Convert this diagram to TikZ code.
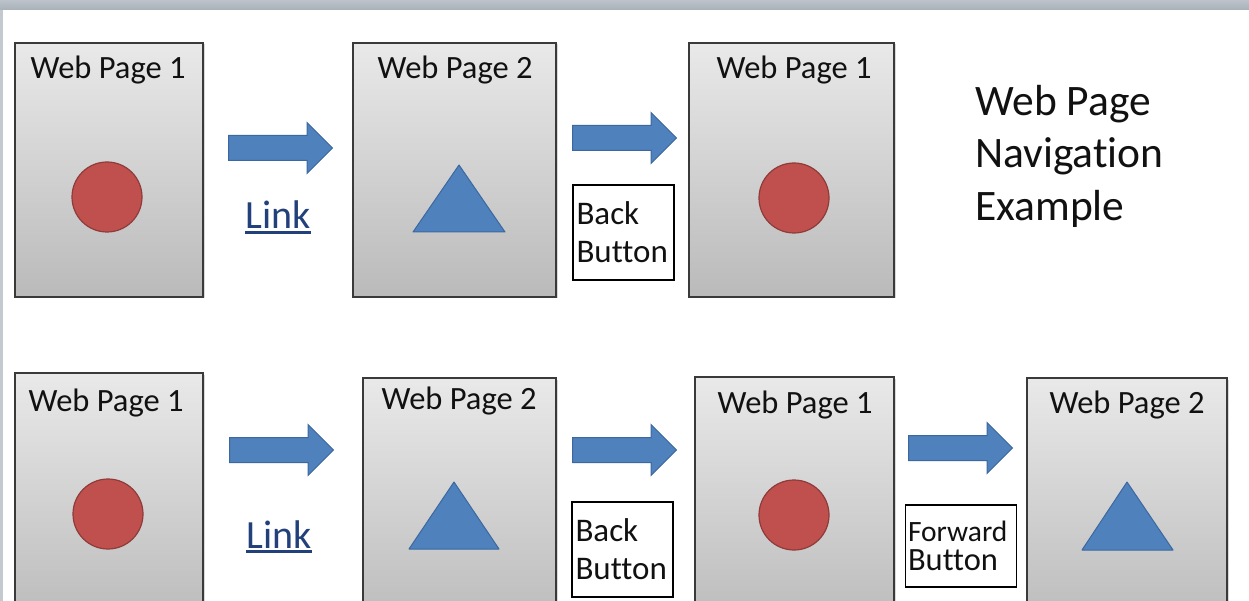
\documentclass[tikz,border=0pt]{standalone}
\usepackage{fontspec}
\setmainfont{Carlito}[Ligatures=NoCommon]
\usetikzlibrary{shapes.arrows,shadows}

\definecolor{pagetop}{HTML}{E9E9EA}
\definecolor{pagebot}{HTML}{BABABA}
\definecolor{pageline}{HTML}{3A3A3A}
\definecolor{dotred}{HTML}{C0504D}
\definecolor{dotline}{HTML}{8E3B39}
\definecolor{shapeblue}{HTML}{4F81BD}
\definecolor{blueline}{HTML}{3C68A0}
\definecolor{linkblue}{HTML}{22407A}
\definecolor{bartop}{HTML}{BCC3CB}
\definecolor{barbot}{HTML}{A8B0B8}
\definecolor{sidebar}{HTML}{C3C9CF}
\definecolor{ink}{HTML}{111111}

\newcommand{\linkline}[1]{\setbox0\hbox{#1}\rlap{\rule[-5pt]{\wd0}{2.6pt}}\box0}

\begin{document}
\begin{tikzpicture}[x=1pt, y=-1pt,
  page/.style={draw=pageline, line width=1.5pt, top color=pagetop, bottom color=pagebot,
    inner sep=0pt, minimum height=254pt,
    drop shadow={shadow xshift=1.5pt, shadow yshift=-1.5pt, opacity=0.3}},
  title/.style={font=\fontsize{32.5}{36}\selectfont, text=ink, anchor=base, inner sep=0pt},
  dot/.style={circle, fill=dotred, draw=dotline, line width=1.2pt, minimum size=70pt, inner sep=0pt},
  tri/.style={fill=shapeblue, draw=blueline, line width=1pt, line join=round},
  blockarrow/.style={single arrow, fill=shapeblue, draw=blueline, line width=1pt, anchor=tail,
    minimum height=104pt, inner xsep=0pt, inner ysep=12pt,
    single arrow head extend=13pt, single arrow head indent=0pt},
  button/.style={draw=black, line width=1.6pt, fill=white, align=left, text=ink,
    inner xsep=3.5pt, inner ysep=0pt, text width=94pt, minimum height=95pt,
    font=\fontsize{33}{38}\selectfont},
  linktext/.style={font=\fontsize{40}{40}\selectfont, text=linkblue, anchor=base, inner sep=0pt},
  navtext/.style={font=\fontsize{43.5}{52.5}\selectfont, text=ink, align=left, anchor=north west, inner sep=0pt}
]
\useasboundingbox (0,0) rectangle (1249,601);
\clip (0,0) rectangle (1249,601);

% window frame
\shade[top color=bartop, bottom color=barbot] (0,0) rectangle (1249,10);
\fill[sidebar] (0,10) rectangle (3,601);

% top row: link, then back
\node[page, minimum width=188pt] (a1) at (109,170) {};
\node[page, minimum width=203pt] (a2) at (454.5,170) {};
\node[page, minimum width=205pt] (a3) at (791.5,170) {};
\node[title] (a1t) at (108,79) {Web Page 1};
\node[title] (a2t) at (455,79) {Web Page 2};
\node[title] (a3t) at (794,79) {Web Page 1};
\node[dot] (a1d) at (107,197) {};
\draw[tri] (413,232) -- (459,165) -- (505,232) -- cycle;
\node[dot] (a3d) at (794,198) {};
\node[blockarrow] (a1a) at (228,148) {};
\node[blockarrow] (a2a) at (572,138) {};
\node[linktext] (a1l) at (278,229) {\linkline{Link}};
\node[button] (a2b) at (623.5,232.5) {Back\\Button};
\node[navtext] (nav) at (975,85) {Web Page\\Navigation\\Example};

% bottom row: link, back, then forward
\node[page, minimum width=188pt] (b1) at (109,500) {};
\node[page, minimum width=193pt] (b2) at (459.5,505) {};
\node[page, minimum width=199pt] (b3) at (794.5,504) {};
\node[page, minimum width=200pt] (b4) at (1127,505) {};
\node[title] (b1t) at (106,411) {Web Page 1};
\node[title] (b2t) at (459,409) {Web Page 2};
\node[title] (b3t) at (795,413) {Web Page 1};
\node[title] (b4t) at (1127,413) {Web Page 2};
\node[dot] (b1d) at (108,514) {};
\draw[tri] (409,549) -- (454,482) -- (499,549) -- cycle;
\node[dot] (b3d) at (794,515) {};
\draw[tri] (1082,550) -- (1127,482) -- (1173,550) -- cycle;
\node[blockarrow] (b1a) at (229,450) {};
\node[blockarrow] (b2a) at (572,450) {};
\node[blockarrow] (b3a) at (908,448) {};
\node[linktext] (b1l) at (279,548) {\linkline{Link}};
\node[button] (b2b) at (622.5,549.5) {Back\\Button};
\node[button, text width=106pt, inner xsep=2.5pt, minimum height=82pt, font=\fontsize{32.5}{29}\selectfont]
  (b3b) at (961,546) {{\fontsize{29.5}{29}\selectfont Forward}\\Button};
\end{tikzpicture}
\end{document}
